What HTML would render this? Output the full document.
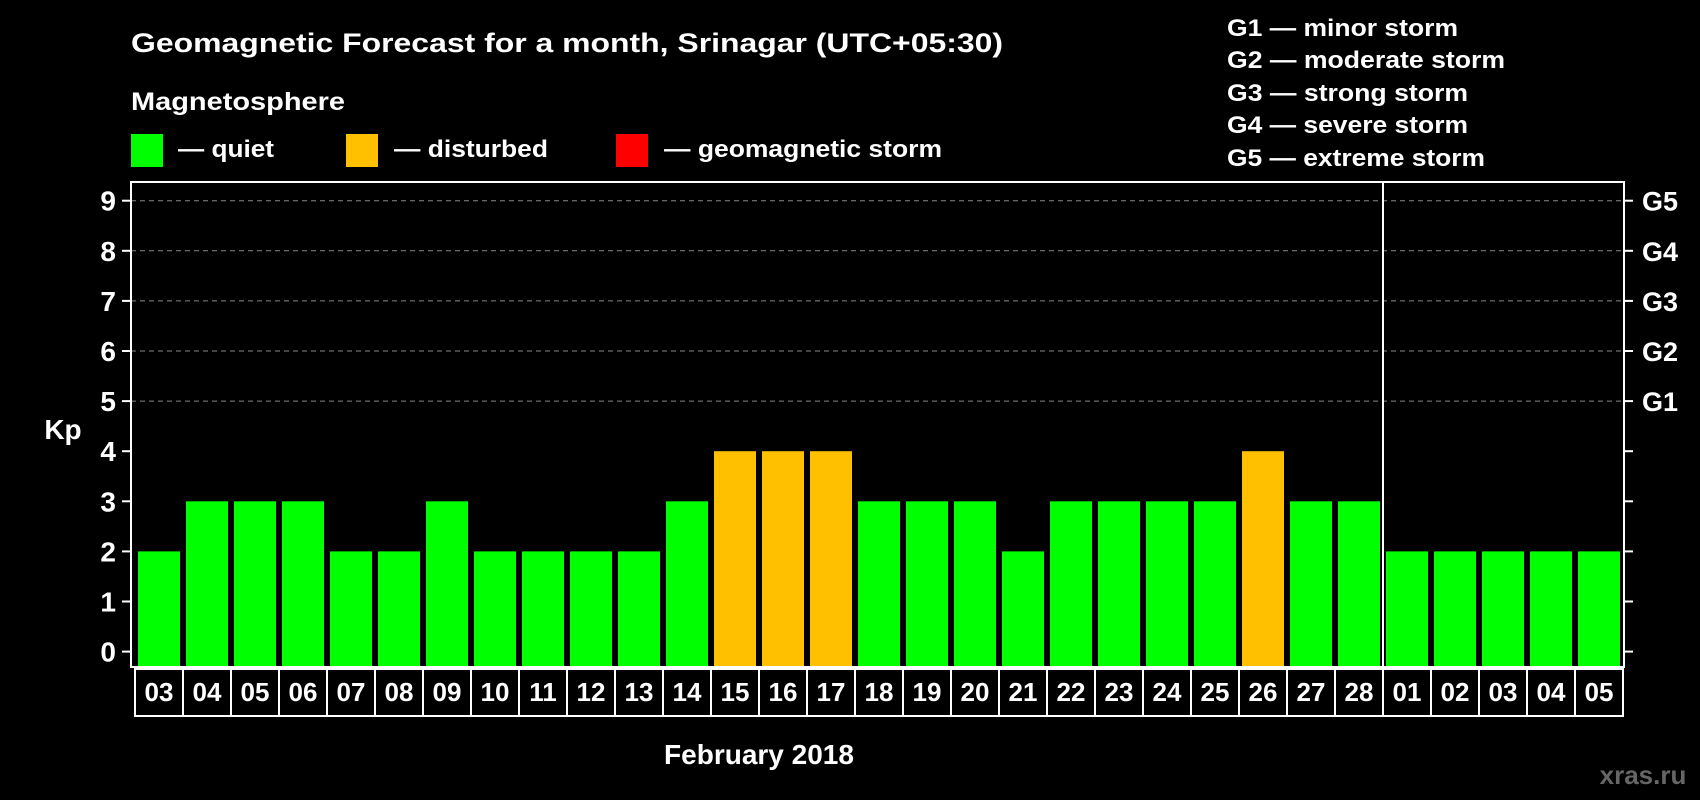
<!DOCTYPE html>
<html><head><meta charset="utf-8"><style>
html,body{margin:0;padding:0;background:#000;}
svg{display:block;font-family:"Liberation Sans",Arial,sans-serif;font-weight:bold;}
</style></head><body>
<svg id="chart" width="1700" height="800" viewBox="0 0 1700 800">
<rect width="1700" height="800" fill="#000"/>
<text x="131" y="52" fill="#fff" font-size="27" textLength="872" lengthAdjust="spacingAndGlyphs">Geomagnetic Forecast for a month, Srinagar (UTC+05:30)</text>
<text x="131" y="110" fill="#fff" font-size="25" textLength="214" lengthAdjust="spacingAndGlyphs">Magnetosphere</text>
<rect x="131" y="134" width="32" height="33" fill="#00ff00"/>
<text x="178" y="157" fill="#fff" font-size="24" textLength="96" lengthAdjust="spacingAndGlyphs">— quiet</text>
<rect x="346" y="134" width="32" height="33" fill="#ffc000"/>
<text x="394" y="157" fill="#fff" font-size="24" textLength="154" lengthAdjust="spacingAndGlyphs">— disturbed</text>
<rect x="616" y="134" width="32" height="33" fill="#ff0000"/>
<text x="664" y="157" fill="#fff" font-size="24" textLength="278" lengthAdjust="spacingAndGlyphs">— geomagnetic storm</text>
<g fill="#fff" font-size="24">
<text x="1227" y="36" textLength="231" lengthAdjust="spacingAndGlyphs">G1 — minor storm</text>
<text x="1227" y="68" textLength="278" lengthAdjust="spacingAndGlyphs">G2 — moderate storm</text>
<text x="1227" y="101" textLength="241" lengthAdjust="spacingAndGlyphs">G3 — strong storm</text>
<text x="1227" y="133" textLength="241" lengthAdjust="spacingAndGlyphs">G4 — severe storm</text>
<text x="1227" y="166" textLength="258" lengthAdjust="spacingAndGlyphs">G5 — extreme storm</text>
</g>
<text x="63" y="439" fill="#fff" font-size="28" text-anchor="middle">Kp</text>
<text x="759" y="764" fill="#fff" font-size="28" text-anchor="middle">February 2018</text>
<text x="1643" y="784" fill="#666" font-size="26" text-anchor="middle">xras.ru</text>
<g id="plot"></g>
</svg>
<script>
const labels=["03","04","05","06","07","08","09","10","11","12","13","14","15","16","17","18","19","20","21","22","23","24","25","26","27","28","01","02","03","04","05"];
const kp=[2,3,3,3,2,2,3,2,2,2,2,3,4,4,4,3,3,3,2,3,3,3,3,4,3,3,2,2,2,2,2];
const yTicks=[0,1,2,3,4,5,6,7,8,9];
const gLabels=["G1","G2","G3","G4","G5"];
const gLevels=[5,6,7,8,9];
const dividerIndex=26;

const NS="http://www.w3.org/2000/svg";
const g=document.getElementById('plot');
const L=131,R=1624,T=182,B=667,x0=134,step=48;
function y(v){return 651.6-v*50.1;}
function xs(i){return x0+i*step;}
function mk(t,a,txt){const e=document.createElementNS(NS,t);for(const k in a)e.setAttribute(k,a[k]);if(txt!==undefined)e.textContent=txt;g.appendChild(e);return e;}
function color(v){return v>=5?"#ff0000":(v>=4?"#ffc000":"#00ff00");}

gLevels.forEach((v,i)=>{
 const ln=mk('line',{x1:L,x2:R,y1:y(v),y2:y(v),stroke:"#888","stroke-width":1,"stroke-dasharray":"5,4"});
 
 
 const t=mk('text',{x:1642,y:y(v)+10,fill:"#fff","font-size":27},gLabels[i]);
 
 
});
yTicks.forEach(v=>{
 const a=mk('line',{x1:122,x2:L,y1:y(v),y2:y(v),stroke:"#fff","stroke-width":2});
 
 
 const b=mk('line',{x1:R,x2:1633,y1:y(v),y2:y(v),stroke:"#fff","stroke-width":2});
 
 
 const t=mk('text',{x:116,y:y(v)+10,fill:"#fff","font-size":28,"text-anchor":"end"},String(v));
 
 
});
kp.forEach((v,i)=>{
 const r=mk('rect',{x:xs(i)+4,y:y(v),width:42,height:666-y(v),fill:color(v)});
 
 
});
labels.forEach((lab,i)=>{
 const r=mk('rect',{x:135+i*step,y:669,width:step,height:47,fill:"none",stroke:"#fff","stroke-width":2});
 
 
 const t=mk('text',{x:135+i*step+step/2,y:701,fill:"#fff","font-size":26,"text-anchor":"middle"},lab);
 
 
});
const dx=(xs(dividerIndex-1)+46+xs(dividerIndex)+4)/2;
const d=mk('line',{x1:dx,x2:dx,y1:T,y2:B,stroke:"#fff","stroke-width":2});


const f=mk('rect',{x:L,y:T,width:R-L,height:B-T,fill:"none",stroke:"#fff","stroke-width":2});


</script>
</body></html>
